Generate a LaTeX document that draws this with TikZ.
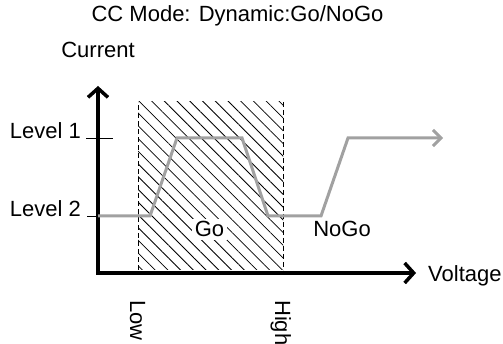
\documentclass[tikz,border=0pt]{standalone}
\usepackage{fontspec}
\setmainfont{Liberation Sans}
\usetikzlibrary{arrows.meta,patterns.meta}

\begin{document}
\begin{tikzpicture}[
    x=1pt, y=-1pt,
    font=\fontsize{22}{26}\selectfont,
    % Line styles
    axis/.style={line width=3.5pt, line join=miter, {Straight Barb[length=9pt,width=20pt]}-{Straight Barb[length=9pt,width=20pt]}},
    levelcurve/.style={line width=3pt, draw=black!37, line join=miter, -{Straight Barb[length=8pt,width=16pt]}},
    tickline/.style={line width=0.8pt},
    limit/.style={line width=0.8pt, dash pattern=on 5pt off 3pt},
    zone/.style={pattern={Lines[angle=-45,distance=9pt,line width=0.8pt]}},
    lbl/.style={inner sep=0pt},
]
    \useasboundingbox (0,0) rectangle (503,344);

    % Axes
    \coordinate (O) at (98,273);
    \coordinate (ytip) at (98,86);
    \coordinate (xtip) at (416,273);

    % Go window
    \coordinate (low) at (138,270);
    \coordinate (high) at (283,102);
    \fill[zone] (low) rectangle (high);
    \draw[limit] (low) -- (low |- high);
    \draw[limit] (high) -- (high |- low);

    \draw[axis] (ytip) -- (O) -- (xtip);

    % Level ticks
    \coordinate (lv1) at (98,138);
    \coordinate (lv2) at (98,216);
    \draw[tickline] ([xshift=-12pt]lv1) -- ([xshift=15pt]lv1);
    \draw[tickline] ([xshift=-11pt]lv2) -- (lv2);

    % Load current
    \coordinate (c1) at (150,216);
    \coordinate (c2) at (177,138);
    \coordinate (c3) at (242,138);
    \coordinate (c4) at (268,216);
    \coordinate (c5) at (321,216);
    \coordinate (c6) at (348,138);
    \coordinate (c7) at (443,138);
    \draw[levelcurve] (lv2) -- (c1) -- (c2) -- (c3) -- (c4) -- (c5) -- (c6) -- (c7);

    % Labels
    \node[lbl, anchor=base] (title) at (237.5,22) {CC Mode: Dynamic:Go/NoGo};
    \node[lbl, anchor=base] (current) at (98,58) {Current};
    \node[lbl, anchor=base west] (voltage) at (428,282) {Voltage};
    \node[lbl, anchor=base east] (level1) at (81,139) {Level 1};
    \node[lbl, anchor=base east] (level2) at (81,217) {Level 2};
    \node[lbl, anchor=base, fill=white, inner sep=3pt] (go) at (209.5,237) {Go};
    \node[lbl, anchor=base] (nogo) at (342,237) {NoGo};
    \node[lbl, anchor=base west, rotate=-90] (lowlbl) at (130,300) {Low};
    \node[lbl, anchor=base west, rotate=-90] (highlbl) at (275,300) {High};

\end{tikzpicture}
\end{document}
